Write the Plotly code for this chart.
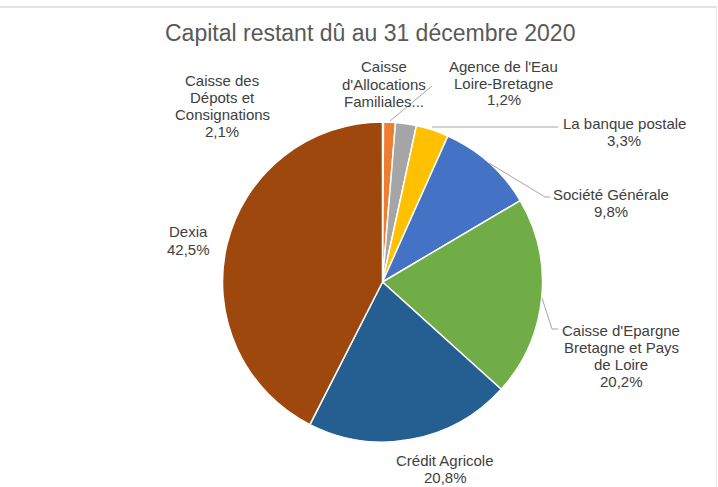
import plotly.graph_objects as go

W, H = 718, 487

# ---- data ----
categories = [
    "Caisse d'Allocations Familiales",
    "Agence de l'Eau Loire-Bretagne",
    "Caisse des Dépots et Consignations",
    "La banque postale",
    "Société Générale",
    "Caisse d'Epargne Bretagne et Pays de Loire",
    "Crédit Agricole",
    "Dexia",
]
values = [0.1, 1.2, 2.1, 3.3, 9.8, 20.2, 20.8, 42.5]
colors = ["#4472C4", "#ED7D31", "#A5A5A5", "#FFC000", "#4472C4",
          "#70AD47", "#255E91", "#9E480E"]
label_lines = [
    ["Caisse", "d'Allocations", "Familiales..."],
    ["Agence de l'Eau", "Loire-Bretagne", "1,2%"],
    ["Caisse des", "Dépots et", "Consignations", "2,1%"],
    ["La banque postale", "3,3%"],
    ["Société Générale", "9,8%"],
    ["Caisse d'Epargne", "Bretagne et Pays", "de Loire", "20,2%"],
    ["Crédit Agricole", "20,8%"],
    ["Dexia", "42,5%"],
]
title_text = "Capital restant dû au 31 décembre 2020"

# ---- layout helpers (pixel -> paper) ----
def px(x):
    return x / W

def py(y):
    return 1 - y / H

# label anchor (center x, first-line center y) in pixels
label_pos = [
    (384, 67), (504, 66), (222, 80), (624, 123),
    (611, 194), (621, 330), (445, 460), (188, 232),
]
LINE_STEP = 17.0

fig = go.Figure(go.Pie(
    labels=categories,
    values=values,
    sort=False,
    direction="clockwise",
    rotation=0,
    marker=dict(colors=colors, line=dict(color="white", width=1.5)),
    textinfo="none",
    hoverinfo="label+percent",
    showlegend=False,
    domain=dict(x=[px(222), px(543)], y=[py(442), py(122)]),
))

annotations = []
for lines, (cx, cy) in zip(label_lines, label_pos):
    for i, t in enumerate(lines):
        annotations.append(dict(
            x=px(cx), y=py(cy + i * LINE_STEP), xref="paper", yref="paper",
            text=t, showarrow=False, xanchor="center", yanchor="middle",
            font=dict(family="Liberation Sans, Arial, sans-serif", size=15, color="#404040"),
        ))
annotations.append(dict(
    x=px(370), y=py(33), xref="paper", yref="paper", text=title_text,
    showarrow=False, xanchor="center", yanchor="middle",
    font=dict(family="Liberation Sans, Arial, sans-serif", size=23, color="#595959"),
))

def path(points):
    return "M " + " L ".join(f"{px(x)},{py(y)}" for x, y in points)

leaders = [
    [(432, 86), (390, 121)],
    [(432, 127), (558, 127)],
    [(489, 163), (545, 197), (550, 197)],
    [(542, 298), (552, 329), (558, 329)],
]
shapes = [dict(type="path", xref="paper", yref="paper", path=path(p),
               line=dict(color="#A6A6A6", width=1)) for p in leaders]
# chart frame
shapes.append(dict(type="line", xref="paper", yref="paper", x0=0, x1=px(717), y0=py(7), y1=py(7),
                   line=dict(color="#D9D9D9", width=1.5)))
shapes.append(dict(type="line", xref="paper", yref="paper", x0=px(716.5), x1=px(716.5), y0=0, y1=py(7),
                   line=dict(color="#E6E6E6", width=1)))

fig.update_layout(
    width=W, height=H,
    margin=dict(l=0, r=0, t=0, b=0),
    paper_bgcolor="white", plot_bgcolor="white",
    annotations=annotations, shapes=shapes,
)

fig.write_html(
    "out.html",
    config={"displayModeBar": False},
    post_script="document.body.style.margin='0';document.body.style.overflow='hidden';",
)
